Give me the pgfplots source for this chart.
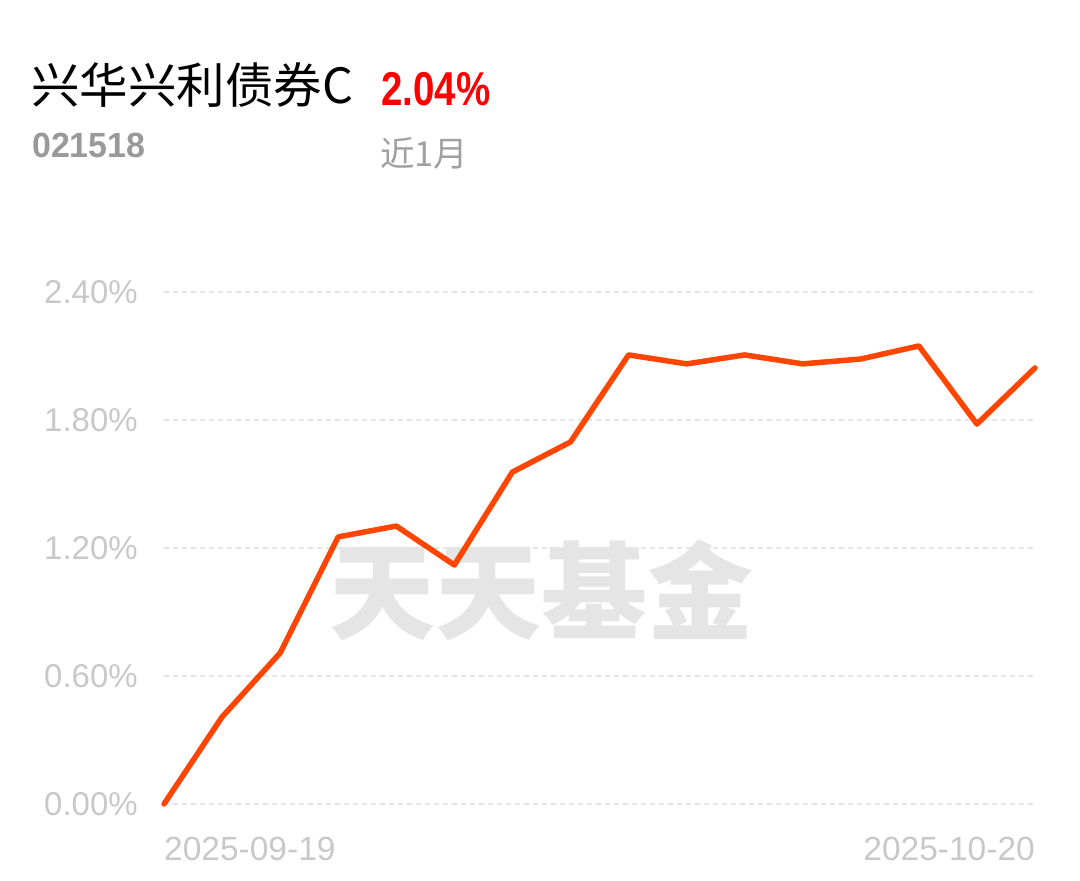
\documentclass[border=0pt]{standalone}
\usepackage{pgfplots}
\pgfplotsset{compat=1.18}
\usepackage{fontspec}
\usepackage{graphicx}
\setmainfont{Liberation Sans}
\newfontfamily\cjk{Noto Sans CJK SC}
\definecolor{lineor}{RGB}{255,69,0}
\definecolor{tickc}{RGB}{200,200,200}
\definecolor{gridc}{RGB}{230,230,230}
\definecolor{wm}{RGB}{229,229,229}
\definecolor{sub}{RGB}{153,153,153}
\definecolor{sub2}{RGB}{160,160,160}
\begin{document}
\begin{tikzpicture}[x=1pt,y=1pt]
\path[use as bounding box] (0,0) rectangle (1080,881);
\node[anchor=center, text=wm, inner sep=0] at (541,291) {\cjk\bfseries\fontsize{106}{110}\selectfont 天天基金};
\begin{axis}[
  at={(164pt,77pt)}, anchor=south west,
  width=871pt, height=512pt, scale only axis,
  xmin=0, xmax=15, ymin=0, ymax=2.4, clip=false,
  axis line style={draw=none}, tick style={draw=none},
  ytick={0,0.6,1.2,1.8,2.4},
  yticklabels={0.00\%,0.60\%,1.20\%,1.80\%,2.40\%},
  ymajorgrids,
  grid style={gridc, line width=2pt, dash pattern=on 5pt off 4pt},
  yticklabel style={font=\fontsize{33}{36}\selectfont, text=tickc, anchor=east, inner sep=0pt, xshift=-26pt},
  xtick={0}, xticklabels={2025-09-19},
  xticklabel style={font=\fontsize{33.5}{36}\selectfont, text=tickc, anchor=north west, inner sep=0pt, yshift=-33pt},
  extra x ticks={15}, extra x tick labels={2025-10-20},
  extra x tick style={xticklabel style={anchor=north east}},
]
\addplot[lineor, line width=5.5pt, line join=round, line cap=round, mark=none] coordinates {
(0,0) (1,0.408) (2,0.708) (3,1.252) (4,1.303) (5,1.120) (6,1.556) (7,1.697)
(8,2.105) (9,2.063) (10,2.105) (11,2.063) (12,2.086) (13,2.147) (14,1.781) (15,2.044)
};
\end{axis}
\node[anchor=base west, inner sep=0] at (31,777) {\cjk\fontsize{48.5}{50}\selectfont 兴华兴利债券C};
\node[anchor=base west, inner sep=0, text=red] at (381,775) {\bfseries\fontsize{47.5}{50}\selectfont\scalebox{0.81}[1]{2.04\%}};
\node[anchor=base west, inner sep=0, text=sub] at (32,723) {\bfseries\fontsize{35}{38}\selectfont\scalebox{0.97}[1]{021518}};
\node[anchor=base west, inner sep=0, text=sub2] at (380,714) {\cjk\fontsize{34.5}{36}\selectfont 近1月};
\end{tikzpicture}
\end{document}
